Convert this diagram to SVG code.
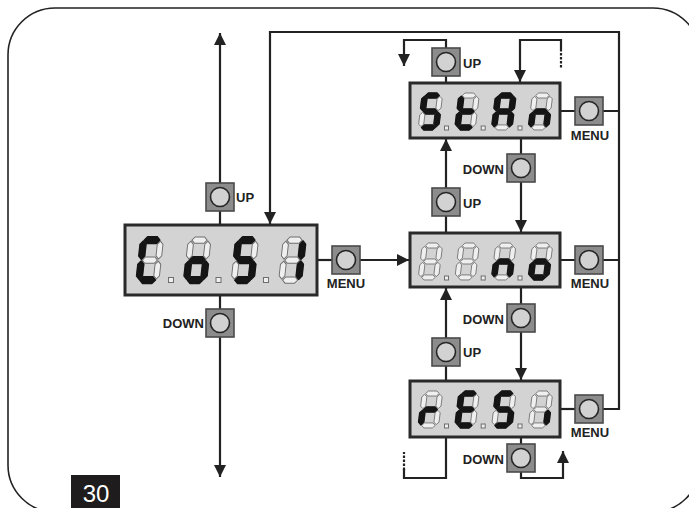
<svg xmlns="http://www.w3.org/2000/svg" xmlns:xlink="http://www.w3.org/1999/xlink" width="689" height="508" viewBox="0 0 689 508">
<style>
.frame{fill:none;stroke:#222;stroke-width:1.6}
.disp{fill:#d3d3d3;stroke:#2a2a2a;stroke-width:3}
.off{fill:#efefef;stroke:#6e6e6e;stroke-width:1}
.on{fill:#151515;stroke:#151515;stroke-width:1.8;stroke-linejoin:round}
.btn{fill:#8c8c8c;stroke:#4a4a4a;stroke-width:1.6}
.knob{fill:#d2d2d2;stroke:#262626;stroke-width:1.6}
.ln{fill:none;stroke:#222;stroke-width:2.2}
.dash{fill:none;stroke:#222;stroke-width:2.2;stroke-dasharray:2.5 1.5}
.lbl{font-family:"Liberation Sans",Arial,sans-serif;font-weight:bold;font-size:13px;fill:#222}
.pg{font-family:"Liberation Sans",Arial,sans-serif;font-size:24px;fill:#fff}
</style>
<defs>
<marker id="ah" markerUnits="userSpaceOnUse" markerWidth="12" markerHeight="12" refX="12" refY="6" orient="auto">
<path d="M0,0 L12,6 L0,12 Z" fill="#222"/>
</marker>
<polygon id="sa" points="4,3 7,0 17,0 20,3 17,6 7,6"/>
<polygon id="sg" points="4,22 7,19 17,19 20,22 17,25 7,25"/>
<polygon id="sd" points="4,41 7,38 17,38 20,41 17,44 7,44"/>
<polygon id="sf" points="3,4 6,7 6,18 3,21 0,18 0,7"/>
<polygon id="se" points="3,23 6,26 6,37 3,40 0,37 0,26"/>
<polygon id="sb" points="21,4 24,7 24,18 21,21 18,18 18,7"/>
<polygon id="sc" points="21,23 24,26 24,37 21,40 18,37 18,26"/>
<g id="d8" class="off">
<use xlink:href="#sa"/><use xlink:href="#sb"/><use xlink:href="#sc"/><use xlink:href="#sd"/><use xlink:href="#se"/><use xlink:href="#sf"/><use xlink:href="#sg"/>
</g>
<g id="button">
<rect class="btn" x="-14" y="-14" width="28" height="28"/>
<circle class="knob" cx="0" cy="0" r="9.5"/>
</g>
</defs>

<rect class="frame" x="8" y="8" width="692" height="504" rx="47" ry="47"/>

<g id="connectors">
<path class="ln" d="M220,225 V33" marker-end="url(#ah)"/>
<path class="ln" d="M220,295 V477" marker-end="url(#ah)"/>
<path class="ln" d="M603,409 H619 V32 H270 V224" marker-end="url(#ah)"/>
<path class="ln" d="M317,260 H332"/>
<path class="ln" d="M360,260 H409" marker-end="url(#ah)"/>
<path class="ln" d="M560,111 H619"/>
<path class="ln" d="M560,260 H619"/>
<path class="ln" d="M560,409 H575"/>
<path class="ln" d="M446,83 V40 H404 V66" marker-end="url(#ah)"/>
<path class="ln" d="M561,49 V40 H520 V82" marker-end="url(#ah)"/>
<path class="dash" d="M561,49 V68"/>
<path class="ln" d="M446,233 V139" marker-end="url(#ah)"/>
<path class="ln" d="M521,138 V232" marker-end="url(#ah)"/>
<path class="ln" d="M446,381 V288" marker-end="url(#ah)"/>
<path class="ln" d="M521,287 V380" marker-end="url(#ah)"/>
<path class="ln" d="M446,437 V478 H404 V469"/>
<path class="dash" d="M404,470 V452"/>
<path class="ln" d="M521,437 V478 H563 V451" marker-end="url(#ah)"/>
</g>

<g id="display-main">
<rect class="disp" x="125" y="225" width="192" height="70"/>
<g transform="translate(141,237) scale(0.95,1.05) skewX(-7)"><use xlink:href="#d8"/><g class="on"><use xlink:href="#sa"/><use xlink:href="#sf"/><use xlink:href="#se"/><use xlink:href="#sd"/></g></g>
<g transform="translate(188.5,237) scale(0.95,1.05) skewX(-7)"><use xlink:href="#d8"/><g class="on"><use xlink:href="#sg"/><use xlink:href="#sc"/><use xlink:href="#sd"/><use xlink:href="#se"/></g></g>
<g transform="translate(236,237) scale(0.95,1.05) skewX(-7)"><use xlink:href="#d8"/><g class="on"><use xlink:href="#sa"/><use xlink:href="#sf"/><use xlink:href="#sg"/><use xlink:href="#sc"/><use xlink:href="#sd"/></g></g>
<g transform="translate(283.5,237) scale(0.95,1.05) skewX(-7)"><use xlink:href="#d8"/><g class="on"><use xlink:href="#sb"/><use xlink:href="#sc"/></g></g>
<rect class="off" x="168.5" y="277.5" width="5" height="5"/>
<rect class="off" x="216" y="277.5" width="5" height="5"/>
<rect class="off" x="263.5" y="277.5" width="5" height="5"/>
</g>

<g id="display-stan">
<rect class="disp" x="410" y="83" width="150" height="55"/>
<g transform="translate(422.5,93) scale(0.85,0.84) skewX(-7)"><use xlink:href="#d8"/><g class="on"><use xlink:href="#sa"/><use xlink:href="#sf"/><use xlink:href="#sg"/><use xlink:href="#sc"/><use xlink:href="#sd"/></g></g>
<g transform="translate(459.2,93) scale(0.85,0.84) skewX(-7)"><use xlink:href="#d8"/><g class="on"><use xlink:href="#sf"/><use xlink:href="#sg"/><use xlink:href="#se"/><use xlink:href="#sd"/></g></g>
<g transform="translate(495.9,93) scale(0.85,0.84) skewX(-7)"><use xlink:href="#d8"/><g class="on"><use xlink:href="#sa"/><use xlink:href="#sb"/><use xlink:href="#sc"/><use xlink:href="#se"/><use xlink:href="#sf"/><use xlink:href="#sg"/></g></g>
<g transform="translate(532.6,93) scale(0.85,0.84) skewX(-7)"><use xlink:href="#d8"/><g class="on"><use xlink:href="#se"/><use xlink:href="#sg"/><use xlink:href="#sc"/></g></g>
<rect class="off" x="444.5" y="126" width="4" height="4"/>
<rect class="off" x="481.2" y="126" width="4" height="4"/>
<rect class="off" x="518" y="126" width="4" height="4"/>
</g>

<g id="display-no">
<rect class="disp" x="410" y="233" width="150" height="54"/>
<g transform="translate(422.5,243) scale(0.85,0.84) skewX(-7)"><use xlink:href="#d8"/></g>
<g transform="translate(459.2,243) scale(0.85,0.84) skewX(-7)"><use xlink:href="#d8"/></g>
<g transform="translate(495.9,243) scale(0.85,0.84) skewX(-7)"><use xlink:href="#d8"/><g class="on"><use xlink:href="#se"/><use xlink:href="#sg"/><use xlink:href="#sc"/></g></g>
<g transform="translate(532.6,243) scale(0.85,0.84) skewX(-7)"><use xlink:href="#d8"/><g class="on"><use xlink:href="#sg"/><use xlink:href="#sc"/><use xlink:href="#sd"/><use xlink:href="#se"/></g></g>
<rect class="off" x="444.5" y="276" width="4" height="4"/>
<rect class="off" x="481.2" y="276" width="4" height="4"/>
<rect class="off" x="518" y="276" width="4" height="4"/>
</g>

<g id="display-resi">
<rect class="disp" x="410" y="381" width="150" height="56"/>
<g transform="translate(422.5,391) scale(0.85,0.84) skewX(-7)"><use xlink:href="#d8"/><g class="on"><use xlink:href="#se"/><use xlink:href="#sg"/></g></g>
<g transform="translate(459.2,391) scale(0.85,0.84) skewX(-7)"><use xlink:href="#d8"/><g class="on"><use xlink:href="#sa"/><use xlink:href="#sf"/><use xlink:href="#sg"/><use xlink:href="#se"/><use xlink:href="#sd"/></g></g>
<g transform="translate(495.9,391) scale(0.85,0.84) skewX(-7)"><use xlink:href="#d8"/><g class="on"><use xlink:href="#sa"/><use xlink:href="#sf"/><use xlink:href="#sg"/><use xlink:href="#sc"/><use xlink:href="#sd"/></g></g>
<g transform="translate(532.6,391) scale(0.85,0.84) skewX(-7)"><use xlink:href="#d8"/><g class="on"><use xlink:href="#sc"/></g></g>
<rect class="off" x="444.5" y="424" width="4" height="4"/>
<rect class="off" x="481.2" y="424" width="4" height="4"/>
<rect class="off" x="518" y="424" width="4" height="4"/>
</g>

<g id="btn-main-up"><use xlink:href="#button" x="220" y="197"/><text class="lbl" x="236" y="202">UP</text></g>
<g id="btn-main-down"><use xlink:href="#button" x="220" y="323"/><text class="lbl" x="204" y="328" text-anchor="end">DOWN</text></g>
<g id="btn-main-menu"><use xlink:href="#button" x="346" y="260"/><text class="lbl" x="346" y="288" text-anchor="middle">MENU</text></g>

<g id="btn-stan-up"><use xlink:href="#button" x="446" y="62"/><text class="lbl" x="463" y="68">UP</text></g>
<g id="btn-stan-menu"><use xlink:href="#button" x="589" y="111"/><text class="lbl" x="590" y="140" text-anchor="middle">MENU</text></g>
<g id="btn-down-1"><use xlink:href="#button" x="521" y="168"/><text class="lbl" x="504" y="174" text-anchor="end">DOWN</text></g>
<g id="btn-up-2"><use xlink:href="#button" x="446" y="202"/><text class="lbl" x="463" y="208">UP</text></g>
<g id="btn-no-menu"><use xlink:href="#button" x="589" y="260"/><text class="lbl" x="590" y="288" text-anchor="middle">MENU</text></g>
<g id="btn-down-2"><use xlink:href="#button" x="521" y="318"/><text class="lbl" x="504" y="324" text-anchor="end">DOWN</text></g>
<g id="btn-up-3"><use xlink:href="#button" x="446" y="352"/><text class="lbl" x="463" y="357">UP</text></g>
<g id="btn-resi-menu"><use xlink:href="#button" x="589" y="409"/><text class="lbl" x="590" y="437" text-anchor="middle">MENU</text></g>
<g id="btn-down-3"><use xlink:href="#button" x="521" y="458"/><text class="lbl" x="504" y="464" text-anchor="end">DOWN</text></g>

<g id="page-number">
<rect x="71" y="475" width="49" height="33" fill="#1e1c1c"/>
<text class="pg" x="96" y="502" text-anchor="middle">30</text>
</g>
</svg>
